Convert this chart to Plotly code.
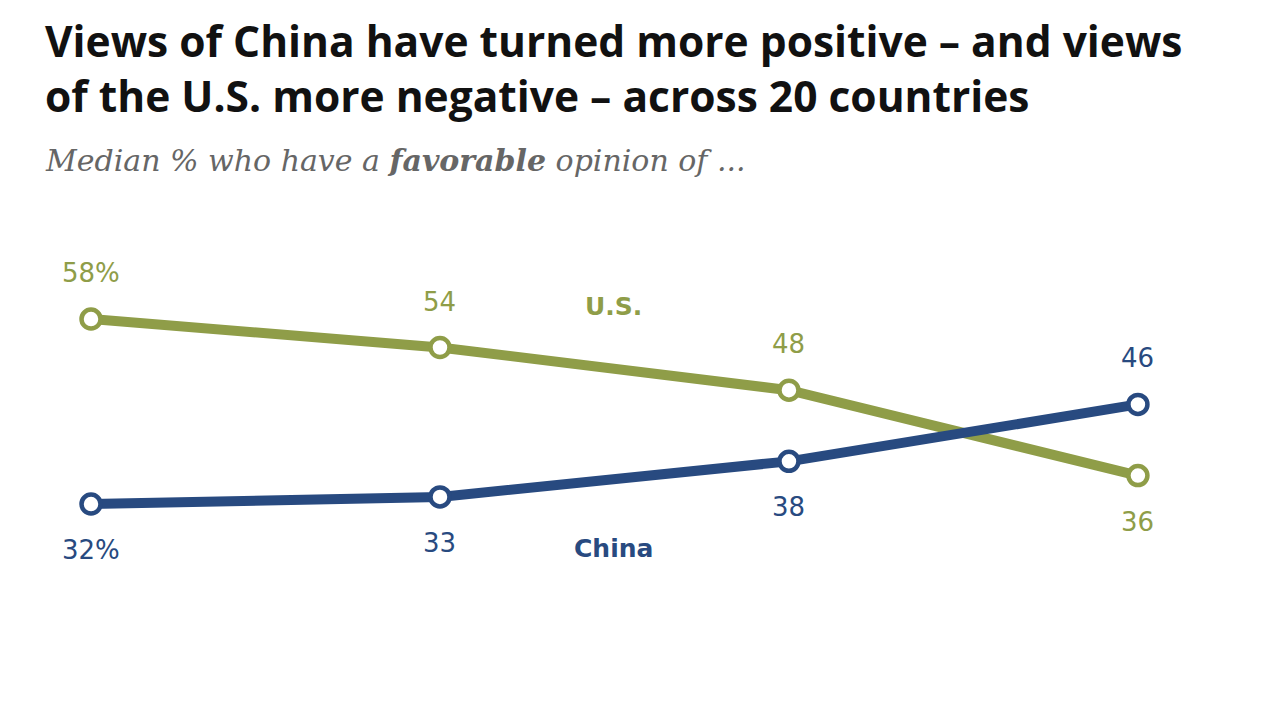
"""
Favorable views of China vs U.S. (median across 20 countries)
"""
import plotly.graph_objects as go

# data
waves = ["Wave 1", "Wave 2", "Wave 3", "Wave 4"]
us_values = [58, 54, 48, 36]
china_values = [32, 33, 38, 46]
us_labels = ["58%", "54", "48", "36"]
china_labels = ["32%", "33", "38", "46"]
us_label_side = [1, 1, 1, -1]      # 1 = above the point, -1 = below
china_label_side = [-1, -1, -1, 1]

GREEN = "#8F9D48"
BLUE = "#284A80"

fig = go.Figure()

for name, vals, color in [("U.S.", us_values, GREEN), ("China", china_values, BLUE)]:
    fig.add_trace(go.Scatter(
        x=list(range(len(waves))), y=vals, name=name,
        mode="lines+markers",
        line=dict(color=color, width=10),
        marker=dict(symbol="circle", size=19, color="white",
                    line=dict(color=color, width=4.5)),
        hoverinfo="skip",
    ))

# point labels
annotations = []
for vals, labels, sides, color in [(us_values, us_labels, us_label_side, GREEN),
                                   (china_values, china_labels, china_label_side, BLUE)]:
    for i, (v, lab, s) in enumerate(zip(vals, labels, sides)):
        annotations.append(dict(
            x=i, y=v, xref="x", yref="y", text=lab, showarrow=False,
            yshift=46 * s, font=dict(family="DejaVu Sans", size=26, color=color),
        ))

# series names
annotations.append(dict(x=1.496, y=59.8, xref="x", yref="y", text="<b>U.S.</b>", showarrow=False,
                        font=dict(family="DejaVu Sans", size=25, color=GREEN)))
annotations.append(dict(x=1.496, y=25.8, xref="x", yref="y", text="<b>China</b>", showarrow=False,
                        font=dict(family="DejaVu Sans", size=25, color=BLUE)))

# title + subtitle (paper coords: plot area spans 460 px tall)
annotations.append(dict(
    xref="paper", yref="paper", x=0.0017, y=1.290, xanchor="left", yanchor="middle",
    showarrow=False, align="left",
    text="<b>Views of China have turned more positive – and views<br>of the U.S. more negative – across 20 countries</b>",
    font=dict(family="Open Sans", size=42.5, color="#111111"),
))
annotations.append(dict(
    xref="paper", yref="paper", x=0.0017, y=1.087, xanchor="left", yanchor="middle",
    showarrow=False,
    text="<i>Median % who have a <b>favorable</b> opinion of ...</i>",
    font=dict(family="DejaVu Serif", size=30, color="#666666"),
))

fig.update_layout(
    width=1268, height=713,
    margin=dict(l=33, r=47, t=193, b=60),
    paper_bgcolor="white", plot_bgcolor="white",
    showlegend=False,
    xaxis=dict(range=[-0.1433, 3.261], visible=False),
    yaxis=dict(range=[9.94, 74.59], visible=False),
    annotations=annotations,
)

fig.write_html("out.html")
